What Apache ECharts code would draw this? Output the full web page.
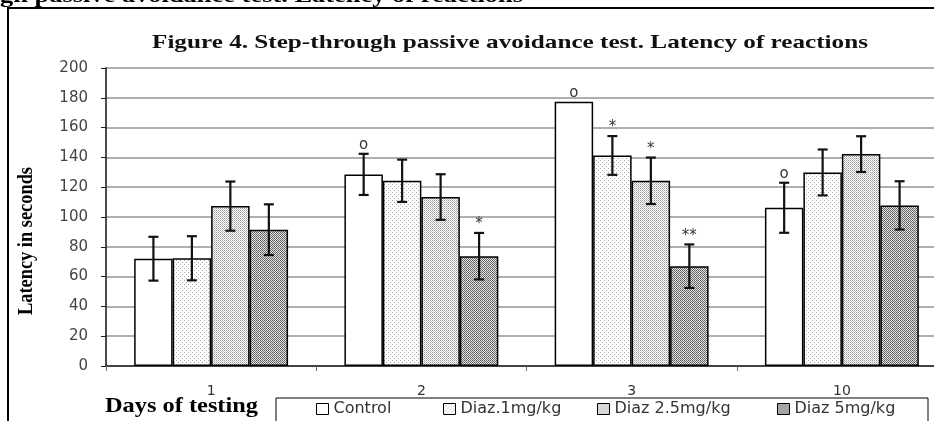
<!DOCTYPE html>
<html>
<head>
<meta charset="utf-8">
<script src="https://cdn.jsdelivr.net/npm/echarts@6/dist/echarts.min.js"></script>
<style>
html,body{margin:0;padding:0;background:#fff;}
#chart{width:934px;height:421px;}
</style>
</head>
<body>
<div id="chart"></div>
<script>
// ---- data ----
const categories = ['1', '2', '3', '10'];
const seriesNames = ['Control', 'Diaz.1mg/kg', 'Diaz 2.5mg/kg', 'Diaz 5mg/kg'];
const control = [72, 128.6, 177.4, 106.2];
const diaz1 = [72.3, 124.3, 141.3, 129.9];
const diaz25 = [107.3, 113.4, 124.3, 142.2];
const diaz5 = [91.5, 73.7, 67, 107.8];
const controlErr = [14.7, 13.8, 0, 16.8];
const diaz1Err = [14.8, 14.2, 13, 15.4];
const diaz25Err = [16.5, 15.3, 15.6, 12];
const diaz5Err = [17, 15.6, 14.6, 16.2];
const controlMarks = ['', 'o', 'o', 'o'];
const diaz1Marks = ['', '', '*', ''];
const diaz25Marks = ['', '', '*', ''];
const diaz5Marks = ['', '*', '**', ''];
const yMin = 0, yMax = 200, yStep = 20;
const titleText = 'Figure 4. Step-through passive avoidance test. Latency of reactions';
const topText = 'gh passive avoidance test. Latency of reactions';
const yName = 'Latency in seconds';
const xName = 'Days of testing';

const values = [control, diaz1, diaz25, diaz5];
const errs = [controlErr, diaz1Err, diaz25Err, diaz5Err];
const marks = [controlMarks, diaz1Marks, diaz25Marks, diaz5Marks];

// ---- patterns ----
function makePattern(w, h, bg, pixels) {
  const c = document.createElement('canvas');
  c.width = w; c.height = h;
  const ctx = c.getContext('2d');
  ctx.fillStyle = bg; ctx.fillRect(0, 0, w, h);
  pixels.forEach(p => { ctx.fillStyle = p[2]; ctx.fillRect(p[0], p[1], 1, 1); });
  return { image: c, repeat: 'repeat' };
}
const fills = [
  '#ffffff',
  makePattern(4, 4, '#ffffff', [[0, 0, '#a8a8a8'], [2, 2, '#a8a8a8']]),
  makePattern(2, 2, '#ffffff', [[0, 0, '#9a9a9a'], [1, 1, '#c4c4c4']]),
  makePattern(4, 4, '#e2e2e2', [[0, 0, '#555'], [2, 0, '#666'], [1, 1, '#777'], [3, 1, '#6a6a6a'], [0, 2, '#666'], [2, 2, '#555'], [1, 3, '#6a6a6a'], [3, 3, '#777']])
];

// ---- text measuring for stretched fonts ----
const mctx = document.createElement('canvas').getContext('2d');
function scaleFor(text, font, target) {
  mctx.font = font;
  return target / mctx.measureText(text).width;
}

const GAP = 0.268;
const chart = echarts.init(document.getElementById('chart'), null, { renderer: 'canvas' });

const barSeries = seriesNames.map((n, i) => ({
  name: n,
  type: 'bar',
  data: values[i],
  barGap: '0%',
  barCategoryGap: (GAP * 100) + '%',
  itemStyle: { color: fills[i], borderColor: '#000', borderWidth: 1.5 },
  emphasis: { disabled: true },
  z: 2
}));

const errSeries = seriesNames.map((n, s) => ({
  name: 'err ' + n,
  type: 'custom',
  z: 5,
  data: values[s].map((v, k) => [k, v, errs[s][k]]),
  renderItem: function (params, api) {
    const cat = api.value(0), val = api.value(1), err = api.value(2);
    const catW = api.size([1, 0])[0];
    const bw = catW * (1 - GAP) / 4;
    const c = api.coord([cat, val]);
    const x = c[0] + (s - 1.5) * bw;
    const top = api.coord([cat, val + err])[1];
    const bot = api.coord([cat, val - err])[1];
    const children = [];
    if (err > 0) {
      const ls = { stroke: '#111', lineWidth: 2.2 };
      children.push({ type: 'line', shape: { x1: x, y1: top, x2: x, y2: bot }, style: ls });
      children.push({ type: 'line', shape: { x1: x - 5, y1: top, x2: x + 5, y2: top }, style: ls });
      children.push({ type: 'line', shape: { x1: x - 5, y1: bot, x2: x + 5, y2: bot }, style: ls });
    }
    const m = marks[s][params.dataIndex];
    if (m) {
      children.push({
        type: 'text',
        style: {
          text: m, x: x, y: top - 1,
          align: 'center', verticalAlign: 'bottom',
          font: '15px "DejaVu Sans"', fill: '#333'
        }
      });
    }
    return { type: 'group', children: children };
  }
}));

const legendIconX = [316, 443, 597, 777];
const legends = seriesNames.map((n, i) => ({
  data: [n],
  left: legendIconX[i],
  top: 401,
  padding: 0,
  icon: 'rect',
  itemWidth: 12,
  itemHeight: 11,
  selectedMode: false,
  itemStyle: { borderColor: '#000', borderWidth: 1 },
  textStyle: { fontFamily: 'DejaVu Sans', fontSize: 16, color: '#333', lineHeight: 16 }
}));

const titleFont = 'bold 19px "Liberation Serif"';
const topFont = 'bold 22px "Liberation Serif"';
const xNameFont = 'bold 21px "Liberation Serif"';
const yNameFont = 'bold 20px "Liberation Serif"';

chart.setOption({
  animation: false,
  backgroundColor: '#fff',
  grid: { left: 106, top: 68, width: 841, height: 298, outerBoundsMode: 'none', containLabel: false },
  legend: legends,
  xAxis: {
    type: 'category',
    data: categories,
    axisLine: { show: true, lineStyle: { color: '#222', width: 1.5 } },
    axisTick: { show: true, length: 5, lineStyle: { color: '#666', width: 1 } },
    axisLabel: { margin: 18, fontFamily: 'DejaVu Sans', fontSize: 14, color: '#333' },
    splitLine: { show: false }
  },
  yAxis: {
    type: 'value',
    min: yMin, max: yMax, interval: yStep,
    axisLine: { show: true, lineStyle: { color: '#111', width: 1.5 } },
    axisTick: { show: true, length: 5, lineStyle: { color: '#222', width: 1 } },
    axisLabel: { margin: 18, fontFamily: 'DejaVu Sans', fontSize: 15, color: '#444' },
    splitLine: { show: true, lineStyle: { color: '#949494', width: 1.6 } }
  },
  series: barSeries.concat(errSeries),
  graphic: [
    { type: 'polyline', silent: true, shape: { points: [[8, 450], [8, 8], [950, 8]] }, style: { stroke: '#000', lineWidth: 2, fill: null } },
    { type: 'text', silent: true, x: 0, y: -4, scaleX: scaleFor(topText, topFont, 523),
      style: { text: topText, font: topFont, fill: '#000', align: 'left', verticalAlign: 'middle' } },
    { type: 'text', silent: true, x: 510, y: 43, scaleX: scaleFor(titleText, titleFont, 716),
      style: { text: titleText, font: titleFont, fill: '#111', align: 'center', verticalAlign: 'middle' } },
    { type: 'text', silent: true, x: 27, y: 241, rotation: Math.PI / 2, scaleX: scaleFor(yName, yNameFont, 148),
      style: { text: yName, font: yNameFont, fill: '#000', align: 'center', verticalAlign: 'middle' } },
    { type: 'text', silent: true, x: 181.5, y: 407, scaleX: scaleFor(xName, xNameFont, 153),
      style: { text: xName, font: xNameFont, fill: '#000', align: 'center', verticalAlign: 'middle' } },
    { type: 'rect', silent: true, shape: { x: 276, y: 398, width: 652, height: 40 }, style: { stroke: '#000', lineWidth: 1, fill: null } }
  ]
});
</script>
</body>
</html>
